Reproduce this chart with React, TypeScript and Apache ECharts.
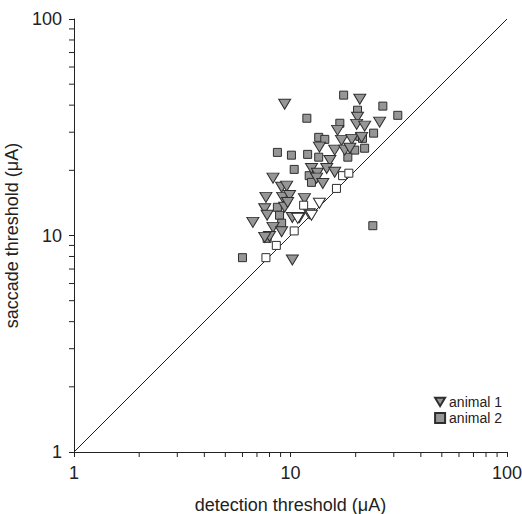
import React, { useEffect, useRef } from 'react';
import * as echarts from 'echarts';

// detection threshold (µA), saccade threshold (µA)
const animal1: number[][] = [
  [9.4, 40.4], [20.9, 42.6], [20.4, 35.2], [25.8, 33.4], [20.2, 32.6], [22.0, 32.0],
  [16.5, 30.6], [17.2, 27.5], [19.2, 27.8], [21.3, 28.4], [13.6, 25.6], [16.0, 24.8],
  [17.8, 24.8], [18.8, 25.3], [15.2, 22.2], [12.5, 20.4], [13.3, 19.4], [14.7, 20.4],
  [16.0, 19.6], [13.2, 18.4], [14.1, 17.4], [8.3, 18.4], [9.1, 16.7], [9.6, 16.9],
  [7.7, 15.0], [9.2, 15.0], [9.9, 15.3], [11.6, 14.8], [7.6, 13.3], [7.8, 12.4],
  [9.4, 13.5], [9.7, 14.2], [10.2, 12.1], [11.0, 12.1], [12.2, 12.6], [6.7, 11.5],
  [8.3, 10.9], [9.1, 10.4], [8.0, 9.9], [7.6, 9.8], [10.2, 7.7],
];
const animal2: number[][] = [
  [17.6, 44.5], [26.7, 39.6], [20.4, 37.9], [11.9, 34.8], [16.9, 33.0], [24.2, 29.7],
  [13.5, 28.4], [14.4, 27.8], [20.9, 28.7], [21.5, 28.1], [8.7, 24.2], [10.1, 23.5],
  [12.0, 23.7], [13.5, 23.0], [19.8, 24.8], [22.0, 25.3], [18.4, 23.0], [10.4, 20.2],
  [12.2, 18.9], [12.5, 17.6], [8.7, 13.5], [8.9, 12.4], [9.1, 11.4], [7.8, 9.7],
  [6.0, 7.9], [24.0, 11.1], [31.3, 35.9],
];
const animal1Open: number[][] = [[13.6, 14.1], [10.8, 12.0], [12.5, 12.4]];
const animal2Open: number[][] = [
  [16.3, 16.5], [17.4, 18.9], [18.6, 19.4], [11.5, 13.8], [10.4, 10.5], [8.6, 9.0], [7.7, 7.9],
];
const unityLine: number[][] = [[1, 1], [100, 100]];
const minorTicks: number[] = [2, 3, 4, 5, 6, 7, 8, 9, 20, 30, 40, 50, 60, 70, 80, 90];

const FONT = "'Liberation Sans', Arial, Helvetica, sans-serif";
const INK = '#222';
const GRAY = '#969696';
const EDGE = '#2e2e2e';

export default function App() {
  const ref = useRef<HTMLDivElement>(null);
  useEffect(() => {
    const chart = echarts.init(ref.current!, null, { renderer: 'svg' });
    const axisCommon = {
      type: 'log',
      logBase: 10,
      min: 1,
      max: 100,
      nameLocation: 'middle',
      nameTextStyle: { fontSize: 18, color: INK, fontFamily: FONT },
      axisLine: { show: true, lineStyle: { color: INK, width: 1 } },
      axisTick: { show: true, inside: false, length: 5, lineStyle: { color: INK, width: 1 } },
      axisLabel: { fontSize: 18, color: INK, fontFamily: FONT, margin: 12 },
      splitLine: { show: false },
    };
    chart.setOption({
      animation: false,
      textStyle: { fontFamily: FONT },
      grid: { left: 74, right: 15, top: 19, bottom: 62, outerBoundsMode: 'none', containLabel: false },
      legend: {
        orient: 'vertical',
        right: 20,
        top: 395,
        padding: 0,
        itemGap: 2,
        itemWidth: 10,
        itemHeight: 10,
        align: 'left',
        textStyle: { fontSize: 14, color: INK, fontFamily: FONT, padding: [0, 0, 0, -1] },
        data: [
          { name: 'animal 1', icon: 'path://M0,0L12,0L6,10Z' },
          { name: 'animal 2', icon: 'rect' },
        ],
      },
      xAxis: { ...axisCommon, name: 'detection threshold (μA)', nameGap: 44 },
      yAxis: { ...axisCommon, name: 'saccade threshold (μA)', nameGap: 42 },
      series: [
        {
          type: 'line',
          data: unityLine,
          symbol: 'none',
          silent: true,
          lineStyle: { color: INK, width: 1 },
          z: 1,
        },
        {
          type: 'custom',
          coordinateSystem: 'cartesian2d',
          clip: false,
          silent: true,
          data: minorTicks.map((v) => [v, 1]),
          renderItem: (_p: any, api: any) => {
            const p = api.coord([api.value(0), api.value(1)]);
            return {
              type: 'line',
              shape: { x1: p[0], y1: p[1], x2: p[0], y2: p[1] + 5 },
              style: { stroke: INK, lineWidth: 1 },
            };
          },
          z: 2,
        },
        {
          type: 'custom',
          coordinateSystem: 'cartesian2d',
          clip: false,
          silent: true,
          data: minorTicks.map((v) => [1, v]),
          renderItem: (_p: any, api: any) => {
            const p = api.coord([api.value(0), api.value(1)]);
            return {
              type: 'line',
              shape: { x1: p[0] - 5, y1: p[1], x2: p[0], y2: p[1] },
              style: { stroke: INK, lineWidth: 1 },
            };
          },
          z: 2,
        },
        {
          name: 'animal 2',
          type: 'scatter',
          data: animal2,
          symbol: 'rect',
          symbolSize: 8,
          itemStyle: { color: GRAY, borderColor: EDGE, borderWidth: 1, opacity: 1 },
          z: 3,
        },
        {
          name: 'animal 1',
          type: 'scatter',
          data: animal1,
          symbol: 'triangle',
          symbolRotate: 180,
          symbolSize: [12, 10],
          itemStyle: { color: GRAY, borderColor: EDGE, borderWidth: 1, opacity: 1 },
          z: 4,
        },
        {
          name: 'animal 2 open',
          type: 'scatter',
          data: animal2Open,
          symbol: 'rect',
          symbolSize: 8,
          itemStyle: { color: '#fff', borderColor: EDGE, borderWidth: 1, opacity: 1 },
          z: 5,
        },
        {
          name: 'animal 1 open',
          type: 'scatter',
          data: animal1Open,
          symbol: 'triangle',
          symbolRotate: 180,
          symbolSize: [12, 10],
          itemStyle: { color: '#fff', borderColor: EDGE, borderWidth: 1, opacity: 1 },
          z: 5,
        },
      ],
    });
    return () => chart.dispose();
  }, []);
  return (
    <div
      ref={ref}
      style={{ position: 'absolute', left: 0, top: 0, width: 522, height: 514, background: '#fff' }}
    />
  );
}
